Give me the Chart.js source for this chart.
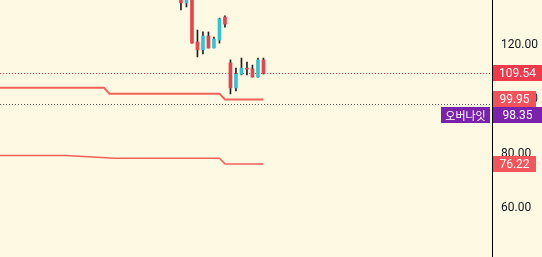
<!DOCTYPE html>
<html>
<head>
<meta charset="utf-8">
<script src="https://cdn.jsdelivr.net/npm/chart.js@4.4.1/dist/chart.umd.min.js"></script>
<style>
  html, body { margin: 0; padding: 0; background: #fef9e2; overflow: hidden; }
  #wrap { width: 542px; height: 257px; position: relative; }
  canvas { display: block; }
</style>
</head>
<body>
<div id="wrap"><canvas id="c" width="542" height="257"></canvas></div>
<script>
// ---- data ----
const candleIndex = [0, 1, 2, 3, 4, 5, 6, 7, 8, 9, 10, 11, 12, 13, 14, 15];
const opens  = [137.6, 135.5, 137.2, 121.1, 118.2, 123.3, 118.9, 121.8, 130.3, 113.4, 104.2, 109.3, 111.3, 111.2, 108.2, 114.5];
const highs  = [138.5, 138.0, 138.0, 125.5, 124.8, 124.8, 122.9, 129.9, 130.7, 114.5, 111.5, 115.2, 113.7, 112.6, 115.2, 115.2];
const lows   = [132.9, 134.0, 120.7, 115.6, 116.7, 118.9, 118.9, 120.7, 126.6, 102.0, 103.1, 109.0, 109.0, 108.2, 108.2, 109.3];
const closes = [135.5, 136.9, 120.7, 118.2, 123.3, 118.9, 122.2, 129.6, 127.7, 104.2, 109.3, 111.5, 111.1, 108.2, 114.5, 109.54];

const upperLineIndex = [-34, -14, -13, 7, 8, 15];
const upperLineValue = [104.3, 104.3, 102.1, 102.1, 99.95, 99.95];
const lowerLineIndex = [-34, -21, -12, 7, 8, 15];
const lowerLineValue = [79.3, 79.3, 78.3, 78.3, 76.22, 76.22];

const yTicks = [60, 80, 100, 120];
const lastPrice = 109.54;
const overnightPrice = 98.35;
const overnightLabel = '오버나잇';
const upperLast = 99.95;
const lowerLast = 76.22;

// ---- colors ----
const UP = '#33c3d6', DOWN = '#e9434f', WICK = '#1f1f1f', LINE = '#f0625a';

const bodies = candleIndex.map((i, k) => ({ x: i, y: [opens[k], closes[k]] }));
const wicks = candleIndex.map((i, k) => ({ x: i, y: [lows[k], highs[k]] }));
const bodyColors = candleIndex.map((i, k) => closes[k] >= opens[k] ? UP : DOWN);

const overlay = {
  id: 'overlay',
  beforeDatasetsDraw(chart) {
    const { ctx, chartArea, scales: { y } } = chart;
    ctx.save();
    ctx.lineWidth = 1;
    ctx.setLineDash([1, 2]);
    const drawDotted = (v, col) => {
      const py = Math.round(y.getPixelForValue(v)) + 0.5;
      ctx.strokeStyle = col;
      ctx.beginPath();
      ctx.moveTo(chartArea.left, py);
      ctx.lineTo(chartArea.right, py);
      ctx.stroke();
    };
    drawDotted(lastPrice, '#e9434f');
    drawDotted(overnightPrice, '#5a5a5a');
    ctx.restore();
  },
  afterDraw(chart) {
    const { ctx, chartArea, scales: { y } } = chart;
    const left = chartArea.right + 1;
    const H = 16;
    ctx.save();
    ctx.font = '12px Roboto';
    ctx.textBaseline = 'middle';
    ctx.textAlign = 'center';
    const badges = [
      { v: lastPrice, bg: '#f0394a', full: true },
      { v: upperLast, bg: '#f4525a', full: false },
      { v: overnightPrice, bg: '#7b22ad', full: true, tag: overnightLabel },
      { v: lowerLast, bg: '#f2555a', full: false }
    ];
    let prevBottom = -Infinity;
    badges.forEach(b => {
      let cy = y.getPixelForValue(b.v);
      let top = Math.round(cy - H / 2);
      if (top < prevBottom) top = prevBottom;
      prevBottom = top + H;
      const txt = b.v.toFixed(2);
      const w = b.full ? chart.width - left : Math.ceil(ctx.measureText(txt).width) + 12;
      ctx.fillStyle = b.bg;
      ctx.fillRect(left, top, w, H);
      ctx.fillStyle = '#ffffff';
      ctx.fillText(txt, left + w / 2, top + H / 2 + 0.5);
      if (b.tag) {
        ctx.font = '11px "Noto Sans CJK KR"';
        const tw = Math.ceil(ctx.measureText(b.tag).width) + 8;
        ctx.fillStyle = b.bg;
        ctx.fillRect(left - 3 - tw, top, tw, H);
        ctx.fillStyle = '#ffffff';
        ctx.fillText(b.tag, left - 3 - tw / 2, top + H / 2 + 0.5);
        ctx.font = '12px Roboto';
      }
    });
    ctx.restore();
  }
};

new Chart(document.getElementById('c'), {
  data: {
    datasets: [
      { type: 'bar', data: wicks, backgroundColor: WICK, barThickness: 1, grouped: false, order: 3 },
      { type: 'bar', data: bodies, backgroundColor: bodyColors, barThickness: 3, grouped: false, order: 2, minBarLength: 1 },
      { type: 'line', data: upperLineIndex.map((x, k) => ({ x, y: upperLineValue[k] })), borderColor: LINE, borderWidth: 2, pointRadius: 0, tension: 0, order: 1 },
      { type: 'line', data: lowerLineIndex.map((x, k) => ({ x, y: lowerLineValue[k] })), borderColor: LINE, borderWidth: 1.6, pointRadius: 0, tension: 0, order: 1 }
    ]
  },
  options: {
    responsive: false,
    devicePixelRatio: 1,
    animation: false,
    layout: { padding: 0 },
    plugins: { legend: { display: false }, tooltip: { enabled: false } },
    scales: {
      x: { type: 'linear', min: -32.9, max: 56.55, display: false, offset: false },
      y: {
        position: 'right',
        min: 41.97, max: 136.56,
        afterFit: s => { s.width = 50; s.paddingTop = 0; s.paddingBottom = 0; },
        afterBuildTicks: s => { s.ticks = yTicks.map(v => ({ value: v })); },
        grid: { display: false, drawTicks: false },
        border: { display: true, color: '#000000', width: 1 },
        ticks: { color: '#131722', font: { family: 'Roboto', size: 12 }, padding: 9, callback: v => Number(v).toFixed(2) }
      }
    }
  },
  plugins: [overlay]
});
</script>
</body>
</html>
